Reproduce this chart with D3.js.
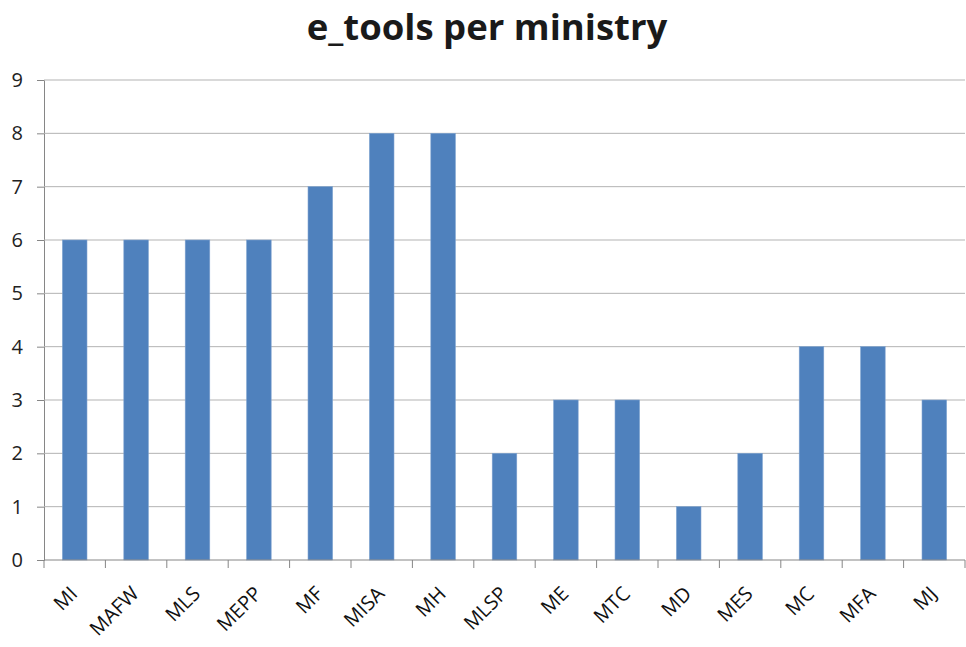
<!DOCTYPE html>
<html>
<head>
<meta charset="UTF-8">
<script src="https://cdn.jsdelivr.net/npm/d3@7"></script>
<style>
  body { margin: 0; background: #fff; }
  text { font-family: "Open Sans", "Noto Sans", sans-serif; }
</style>
</head>
<body>
<script>
    // Daten
    let ministries = ["MI", "MAFW", "MLS", "MEPP", "MF", "MISA", "MH", "MLSP", "ME", "MTC", "MD", "MES", "MC", "MFA", "MJ"];
    let tools = [6, 6, 6, 6, 7, 8, 8, 2, 3, 3, 1, 2, 4, 4, 3];
    let yTicks = [0, 1, 2, 3, 4, 5, 6, 7, 8, 9];

    let W = 966, H = 647;
    let margin = {top: 80, right: 1, bottom: 87, left: 44};
    let w = W - margin.left - margin.right,
        h = H - margin.top - margin.bottom;

    let svg = d3.select("body").append("svg")
        .attr("width", W)
        .attr("height", H);

    // Titel
    svg.append("text")
        .attr("x", 487)
        .attr("y", 40)
        .attr("text-anchor", "middle")
        .attr("font-size", "36.5px")
        .attr("font-weight", "bold")
        .attr("fill", "#1a1a1a")
        .text("e_tools per ministry");

    let g = svg.append("g")
        .attr("transform", "translate(" + margin.left + "," + margin.top + ")");

    let x = d3.scaleBand()
        .domain(ministries)
        .range([0, w])
        .paddingInner(0.6)
        .paddingOuter(0.3);

    let xb = d3.scaleLinear().domain([0, ministries.length]).range([0, w]);

    let y = d3.scaleLinear()
        .domain([0, 9])
        .range([h, 0]);

    // Hilfslinien + y-Achse
    let yAxis = g.append("g")
        .call(d3.axisLeft(y).tickValues(yTicks).tickSize(7).tickPadding(14));
    yAxis.select(".domain").attr("stroke", "#868686");
    yAxis.selectAll(".tick line").attr("stroke", "#868686");
    yAxis.selectAll(".tick text")
        .attr("font-size", "20px")
        .attr("fill", "#222");

    g.append("g")
        .selectAll("line")
        .data(yTicks.filter(d => d > 0))
        .enter().append("line")
        .attr("x1", 0)
        .attr("x2", w)
        .attr("y1", d => y(d))
        .attr("y2", d => y(d))
        .attr("stroke", "#b3b3b3")
        .attr("stroke-width", 1);

    // Balken
    g.selectAll("rect.bar")
        .data(tools)
        .enter().append("rect")
        .attr("class", "bar")
        .attr("x", (d, i) => x(ministries[i]))
        .attr("y", d => y(d))
        .attr("width", x.bandwidth())
        .attr("height", d => h - y(d))
        .attr("fill", "#4f81bd")
        .attr("stroke", "#7da2d0")
        .attr("stroke-width", 0.6);

    // x-Achse
    g.append("line")
        .attr("x1", 0).attr("x2", w)
        .attr("y1", h).attr("y2", h)
        .attr("stroke", "#868686");

    g.append("g")
        .selectAll("line")
        .data(d3.range(ministries.length + 1))
        .enter().append("line")
        .attr("x1", d => xb(d))
        .attr("x2", d => xb(d))
        .attr("y1", h)
        .attr("y2", h + 8)
        .attr("stroke", "#868686");

    g.append("g")
        .selectAll("text")
        .data(ministries)
        .enter().append("text")
        .attr("transform", d => "translate(" + (x(d) + x.bandwidth() / 2 + 4) + "," + (h + 35) + ") rotate(-45)")
        .attr("text-anchor", "end")
        .attr("font-size", "20px")
        .attr("fill", "#111")
        .text(d => d);
</script>
</body>
</html>
